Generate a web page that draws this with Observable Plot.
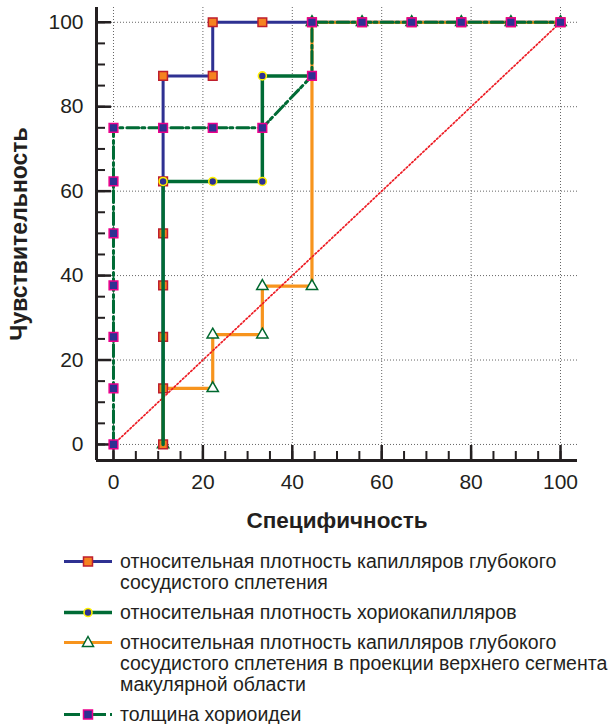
<!DOCTYPE html>
<html><head><meta charset="utf-8">
<script src="https://cdn.jsdelivr.net/npm/d3@7"></script>
<script src="https://cdn.jsdelivr.net/npm/@observablehq/plot@0.6"></script>
<style>
body{margin:0;background:#fff;font-family:Arial,"Liberation Sans",sans-serif;color:#231f20}
#legend{padding-top:11px}
.item{display:flex;align-items:flex-start;margin-bottom:9px;font-size:19.5px;line-height:21px;white-space:nowrap}
.item svg{margin-left:64px;flex:none;margin-right:8px}
</style></head><body><div id="chart"></div><div id="legend"></div>
<script>
// ---- data ----
const xTicks = [0, 20, 40, 60, 80, 100];
const yTicks = [0, 20, 40, 60, 80, 100];
const minorTicks = [0,5,10,15,20,25,30,35,40,45,50,55,60,65,70,75,80,85,90,95,100];
const xTitle = "Специфичность";
const yTitle = "Чувствительность";
const diagonal = [0, 100];

// series 1: относительная плотность капилляров глубокого сосудистого сплетения
const spec1 = [11.1, 11.1, 11.1, 11.1, 11.1, 11.1, 11.1, 22.2, 22.2, 33.3, 44.4, 55.6, 66.7, 77.8, 88.9, 100];
const sens1 = [0, 13.3, 25.5, 37.7, 50, 62.3, 87.3, 87.3, 100, 100, 100, 100, 100, 100, 100, 100];
// series 2: относительная плотность хориокапилляров
const spec2 = [11.1, 11.1, 22.2, 33.3, 33.3, 44.4];
const sens2 = [0, 62.3, 62.3, 62.3, 87.3, 87.3];
// series 3: ... в проекции верхнего сегмента макулярной области
const spec3 = [11.1, 22.2, 22.2, 33.3, 33.3, 44.4, 44.4, 55.6, 66.7, 77.8, 88.9, 100];
const sens3 = [0, 13.3, 26, 26, 37.5, 37.5, 100, 100, 100, 100, 100, 100];
// series 4: толщина хориоидеи
const spec4 = [0, 0, 0, 0, 0, 0, 0, 11.1, 22.2, 33.3, 44.4, 44.4, 55.6, 66.7, 77.8, 88.9, 100];
const sens4 = [0, 13.3, 25.5, 37.7, 50, 62.3, 75, 75, 75, 75, 87.3, 100, 100, 100, 100, 100, 100];

const seriesNames = [
  ["относительная плотность капилляров глубокого", "сосудистого сплетения"],
  ["относительная плотность хориокапилляров"],
  ["относительная плотность капилляров глубокого", "сосудистого сплетения в проекции верхнего сегмента", "макулярной области"],
  ["толщина хориоидеи"]
];

// ---- styles ----
const NAVY = "#2e3192", GREEN = "#006b35", ORANGE = "#f7941d", SQ_FILL = "#f58220", SQ_STROKE = "#be1e2d",
      PINK = "#ec008c", YELLOW = "#fff200", TRI = "#00682f", RED = "#ed1c24", INK = "#231f20", GRID = "#666";
const DASHDOT = "12,3,3,4";

const xDomain = [-3.8, 103.8];
const yDomain = [-3.8, 103.5];

const mk = (xs, ys) => xs.map((x, i) => ({x, y: ys[i]}));
const s1 = mk(spec1, sens1), s2 = mk(spec2, sens2), s3 = mk(spec3, sens3), s4 = mk(spec4, sens4);

const chart = Plot.plot({
  width: 611, height: 540,
  marginLeft: 96, marginRight: 34, marginTop: 7, marginBottom: 80,
  x: {domain: xDomain, axis: null},
  y: {domain: yDomain, axis: null},
  style: {fontFamily: "Arial, 'Liberation Sans', sans-serif", color: INK, background: "#fff", overflow: "visible"},
  marks: [
    // grid
    Plot.ruleX(xTicks, {x: d => d, stroke: GRID, strokeWidth: 1, strokeDasharray: "1,2"}),
    Plot.ruleY(yTicks, {y: d => d, stroke: GRID, strokeWidth: 1, strokeDasharray: "1,2"}),
    // axis lines
    Plot.ruleY([yDomain[0]], {y: d => d, stroke: INK, strokeWidth: 3}),
    Plot.ruleX([xDomain[0]], {x: d => d, stroke: INK, strokeWidth: 3}),
    // ticks (inward)
    Plot.axisX(minorTicks, {tickSize: -9, fill: "none", stroke: INK, strokeWidth: 2, label: null}),
    Plot.axisX(xTicks, {tickSize: -15, fill: "none", stroke: INK, strokeWidth: 2.5, label: null}),
    Plot.axisX(xTicks, {tickSize: 0, tickPadding: 14, fontSize: 21, fill: INK, label: null}),
    Plot.axisY(minorTicks, {tickSize: -9, fill: "none", stroke: INK, strokeWidth: 2, label: null}),
    Plot.axisY(yTicks, {tickSize: -15, fill: "none", stroke: INK, strokeWidth: 2.5, label: null}),
    Plot.axisY(yTicks, {tickSize: 0, tickPadding: 13, fontSize: 21, fill: INK, label: null}),
    // titles
    Plot.text([xTitle], {text: d => d, frameAnchor: "bottom", dy: 60, textAnchor: "middle", lineAnchor: "middle", fontSize: 22.5, fontWeight: "bold", fill: INK}),
    Plot.text([yTitle], {text: d => d, frameAnchor: "left", dx: -77, rotate: -90, textAnchor: "middle", lineAnchor: "middle", fontSize: 23, fontWeight: "bold", fill: INK}),
    // series 1 line
    Plot.line(s1, {x: "x", y: "y", stroke: NAVY, strokeWidth: 3}),
    // series 3 line + triangles
    Plot.line(s3, {x: "x", y: "y", stroke: ORANGE, strokeWidth: 3.2, curve: "step-before"}),
    Plot.dot(s3, {x: "x", y: "y", symbol: "triangle", r: 4.2, fill: "#fff", stroke: TRI, strokeWidth: 1.5}),
    // series 1 markers
    Plot.dot(s1, {x: "x", y: "y", symbol: "square", r: 4.9, fill: SQ_FILL, stroke: SQ_STROKE, strokeWidth: 1.5}),
    // reference diagonal
    Plot.line(diagonal, {x: d => d, y: d => d, stroke: RED, strokeWidth: 1.7, strokeDasharray: "1.6,2.2"}),
    // series 2
    Plot.line(s2, {x: "x", y: "y", stroke: GREEN, strokeWidth: 3.5}),
    Plot.dot(s2, {x: "x", y: "y", filter: d => d.y > 0, r: 4, fill: NAVY, stroke: YELLOW, strokeWidth: 1.6}),
    // series 4
    Plot.line(s4, {x: "x", y: "y", stroke: GREEN, strokeWidth: 3, strokeDasharray: DASHDOT}),
    Plot.dot(s4, {x: "x", y: "y", symbol: "square", r: 4.9, fill: NAVY, stroke: PINK, strokeWidth: 1.5})
  ]
});
document.getElementById("chart").appendChild(chart);

// ---- legend ----
const swatches = [
  `<line x1="0" x2="48" y1="10.5" y2="10.5" stroke="${NAVY}" stroke-width="3"/><rect x="19.5" y="6" width="9" height="9" fill="${SQ_FILL}" stroke="${SQ_STROKE}" stroke-width="1.5"/>`,
  `<line x1="0" x2="48" y1="10.5" y2="10.5" stroke="${GREEN}" stroke-width="3.5"/><circle cx="24" cy="10.5" r="4" fill="${NAVY}" stroke="${YELLOW}" stroke-width="1.6"/>`,
  `<line x1="0" x2="48" y1="10.5" y2="10.5" stroke="${ORANGE}" stroke-width="3"/><path d="M24,4.5L29.5,14.5L18.5,14.5Z" fill="#fff" stroke="${TRI}" stroke-width="1.5"/>`,
  `<line x1="0" x2="48" y1="10.5" y2="10.5" stroke="${GREEN}" stroke-width="3" stroke-dasharray="16,4,3,3"/><rect x="19.5" y="6" width="9" height="9" fill="${NAVY}" stroke="${PINK}" stroke-width="1.5"/>`
];
const legend = document.getElementById("legend");
seriesNames.forEach((lines, i) => {
  const div = document.createElement("div");
  div.className = "item";
  div.innerHTML = `<svg width="48" height="21">${swatches[i]}</svg><div>${lines.join("<br>")}</div>`;
  legend.appendChild(div);
});
</script>
</body></html>
